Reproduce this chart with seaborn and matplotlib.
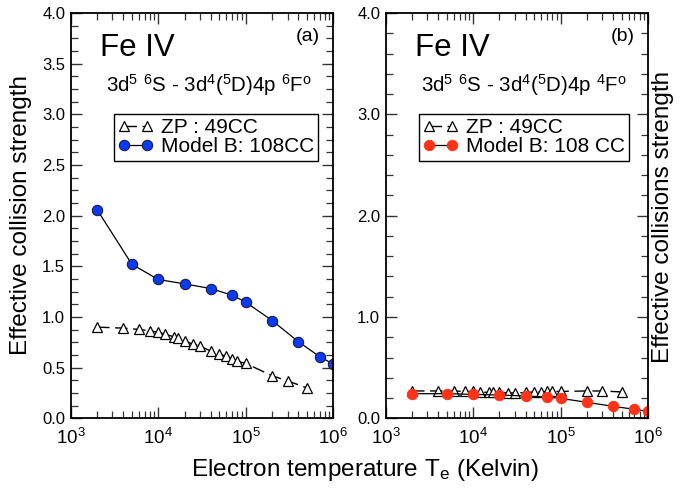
import numpy as np
import matplotlib
matplotlib.use('Agg')
import matplotlib.pyplot as plt
import seaborn as sns
from matplotlib.ticker import MultipleLocator, FormatStrFormatter, LogLocator, NullFormatter

# Fe IV effective collision strengths vs electron temperature
temp_b = [2e3, 5e3, 1e4, 2e4, 4e4, 7e4, 1e5, 2e5, 4e5, 7e5, 1e6]
temp_zp = [2e3, 4e3, 6e3, 8e3, 1e4, 1.2e4, 1.5e4, 1.7e4, 2e4, 2.5e4, 3e4,
           4e4, 5e4, 6e4, 7e4, 8e4, 1e5, 2e5, 3e5, 5e5]

# panel (a): 6F
zp_a = [0.90, 0.89, 0.877, 0.864, 0.847, 0.831, 0.805, 0.788, 0.762, 0.732, 0.713,
        0.663, 0.634, 0.611, 0.588, 0.562, 0.542, 0.42, 0.37, 0.30]
modelb_a = [2.06, 1.52, 1.37, 1.327, 1.28, 1.215, 1.146, 0.965, 0.756, 0.608, 0.535]

# panel (b): 4F
zp_b = [0.27, 0.27, 0.27, 0.265, 0.265, 0.26, 0.255, 0.255, 0.255, 0.25, 0.25,
        0.255, 0.26, 0.26, 0.265, 0.265, 0.265, 0.27, 0.27, 0.26]
modelb_b = [0.243, 0.243, 0.236, 0.23, 0.22, 0.21, 0.197, 0.158, 0.118, 0.089, 0.069]

sns.set_style('ticks')
plt.rcParams['font.family'] = ['Liberation Sans', 'DejaVu Sans']
plt.rcParams['mathtext.default'] = 'regular'
plt.rcParams['text.color'] = 'k'
plt.rcParams['xtick.labelcolor'] = 'k'
plt.rcParams['ytick.labelcolor'] = 'k'

fig = plt.figure(figsize=(6.89, 4.88), dpi=100)
ax1 = fig.add_axes([0.1026, 0.1428, 0.3811, 0.8306])
ax2 = fig.add_axes([0.5598, 0.1428, 0.3807, 0.8306])

subtitles = [r'3d$^5$ $^6$S - 3d$^4$($^5$D)4p $^6$F$^o$',
             r'3d$^5$ $^6$S - 3d$^4$($^5$D)4p $^4$F$^o$']

panels = [(ax1, zp_a, modelb_a, '#0a3af2', '#111133', 'Model B: 108CC', '(a)', 0.5, 0.125, 0.165),
          (ax2, zp_b, modelb_b, '#ff3317', '#ff3317', 'Model B: 108 CC', '(b)', 1.0, 0.2, 0.127)]

for i, (ax, zp, mb, col, edge, lab, tag, major, minor, lx) in enumerate(panels):
    ax.set_xscale('log')
    sns.lineplot(x=temp_zp, y=zp, ax=ax, color='k', lw=1, linestyle=(0, (9, 4)),
                 marker='^', markersize=7, markerfacecolor='white', markeredgecolor='k',
                 markeredgewidth=0.9, label='ZP : 49CC')
    sns.lineplot(x=temp_b, y=mb, ax=ax, color='k', lw=0.9,
                 marker='o', markersize=7.5, markerfacecolor=col, markeredgecolor=edge,
                 markeredgewidth=0.7, label=lab)
    ax.set_xlim(1e3, 1e6)
    ax.set_ylim(0, 4.0)
    ax.xaxis.set_major_locator(LogLocator(base=10, numticks=10))
    ax.xaxis.set_minor_locator(LogLocator(base=10, subs=np.arange(2, 10), numticks=20))
    ax.xaxis.set_minor_formatter(NullFormatter())
    ax.yaxis.set_major_locator(MultipleLocator(major))
    ax.yaxis.set_minor_locator(MultipleLocator(minor))
    ax.yaxis.set_major_formatter(FormatStrFormatter('%.1f'))
    ax.tick_params(which='both', direction='in', top=True, right=True, color='#333333')
    ax.tick_params(which='major', length=8, width=1)
    ax.tick_params(which='minor', length=5, width=0.9)
    ax.tick_params(axis='x', which='major', labelsize=13.5, pad=7)
    ax.tick_params(axis='y', which='major', labelsize=12, pad=4)
    for s in ax.spines.values():
        s.set_linewidth(1.3)
        s.set_color('k')
    ax.set_xlabel('')
    ax.set_ylabel('')
    ax.text(0.11, 0.893, 'Fe IV', transform=ax.transAxes, fontsize=22.5, va='baseline')
    ax.text(0.95, 0.943, tag, transform=ax.transAxes, fontsize=14, ha='right', va='center')
    ax.text(0.135, 0.805, subtitles[i], transform=ax.transAxes, fontsize=14.8, va='baseline')
    leg = ax.legend(loc='upper left', bbox_to_anchor=(lx, 0.751), fontsize=15,
                    frameon=True, fancybox=False, framealpha=1, edgecolor='k',
                    borderpad=0.2, labelspacing=0.02, handlelength=1.7,
                    handletextpad=0.35, borderaxespad=0, numpoints=2)
    leg.get_frame().set_linewidth(1)

fig.text(0.031, 0.56, 'Effective collision strength', rotation=90, fontsize=17.5,
         ha='center', va='center')
fig.text(0.962, 0.555, 'Effective collisions strength', rotation=90, fontsize=17.5,
         ha='center', va='center')
fig.text(0.53, 0.025, r'Electron temperature T$_e$ (Kelvin)', fontsize=17.5,
         ha='center', va='baseline')

fig.savefig('out.png', dpi=100)
